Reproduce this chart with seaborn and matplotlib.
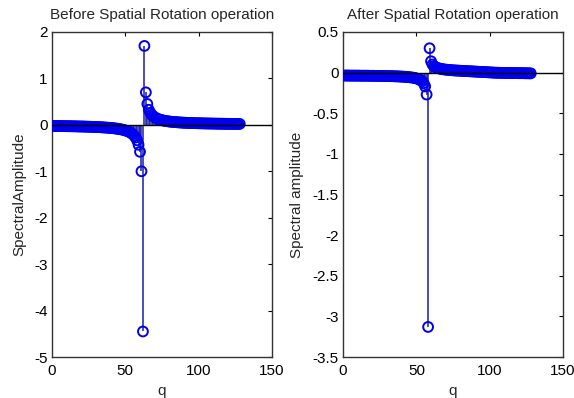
# Stem plots of spectral amplitude before / after spatial rotation (MATLAB-style look)

import numpy as np
import matplotlib
matplotlib.use("Agg")
import matplotlib.pyplot as plt
import seaborn as sns

# q index 1..128
q = list(range(1, 129))

# spectral amplitude before the rotation
before_amp = [
    -0.024, -0.025, -0.025, -0.026, -0.026, -0.027, -0.027, -0.028, -0.028, -0.029,
    -0.029, -0.030, -0.030, -0.031, -0.032, -0.032, -0.033, -0.034, -0.035, -0.035,
    -0.036, -0.037, -0.038, -0.039, -0.040, -0.041, -0.042, -0.044, -0.045, -0.046,
    -0.048, -0.049, -0.051, -0.053, -0.055, -0.057, -0.059, -0.061, -0.064, -0.067,
    -0.070, -0.073, -0.077, -0.081, -0.086, -0.091, -0.097, -0.103, -0.111, -0.120,
    -0.130, -0.143, -0.158, -0.177, -0.200, -0.231, -0.273, -0.333, -0.429, -0.580,
    -1.000, -4.450,
    1.700, 0.700, 0.450, 0.325, 0.260, 0.217, 0.186, 0.163, 0.144, 0.130,
    0.118, 0.108, 0.100, 0.093, 0.087, 0.081, 0.076, 0.072, 0.068, 0.065,
    0.062, 0.059, 0.057, 0.054, 0.052, 0.050, 0.048, 0.046, 0.045, 0.043,
    0.042, 0.041, 0.039, 0.038, 0.037, 0.036, 0.035, 0.034, 0.033, 0.033,
    0.032, 0.031, 0.030, 0.030, 0.029, 0.028, 0.028, 0.027, 0.027, 0.026,
    0.025, 0.025, 0.025, 0.024, 0.024, 0.023, 0.023, 0.022, 0.022, 0.022,
    0.021, 0.021, 0.021, 0.020, 0.020, 0.020,
]

# spectral amplitude after the rotation (right panel)
after_amp = [
    -0.036, -0.036, -0.036, -0.036, -0.037, -0.037, -0.037, -0.037, -0.037, -0.037,
    -0.037, -0.038, -0.038, -0.038, -0.038, -0.038, -0.038, -0.039, -0.039, -0.039,
    -0.039, -0.040, -0.040, -0.040, -0.040, -0.041, -0.041, -0.042, -0.042, -0.042,
    -0.043, -0.043, -0.044, -0.044, -0.045, -0.046, -0.046, -0.047, -0.048, -0.049,
    -0.050, -0.051, -0.053, -0.054, -0.056, -0.058, -0.060, -0.063, -0.067, -0.071,
    -0.077, -0.084, -0.094, -0.108, -0.130, -0.170, -0.270, -3.130,
    0.300, 0.140, 0.100, 0.080, 0.068, 0.060, 0.054, 0.049, 0.045, 0.042,
    0.039, 0.037, 0.035, 0.033, 0.031, 0.030, 0.028, 0.027, 0.026, 0.025,
    0.024, 0.023, 0.022, 0.021, 0.020, 0.019, 0.018, 0.017, 0.016, 0.015,
    0.014, 0.013, 0.012, 0.011, 0.010, 0.009, 0.008, 0.007, 0.006, 0.005,
    0.004, 0.003, 0.002, 0.001, 0.000, -0.001, -0.001, -0.002, -0.002, -0.003,
    -0.003, -0.003, -0.004, -0.004, -0.004, -0.005, -0.005, -0.005, -0.006, -0.006,
    -0.006, -0.007, -0.007, -0.007, -0.007, -0.008, -0.008, -0.008, -0.009, -0.009,
]

titles = ["Before Spatial Rotation operation", "After Spatial Rotation operation"]
ylabels = ["SpectralAmplitude", "Spectral amplitude"]
ylims = [(-5, 2), (-3.5, 0.5)]
yticks = [np.arange(-5, 2.01, 1), np.arange(-3.5, 0.51, 0.5)]
xticks = [0, 50, 100, 150]

sns.set_style("white")
plt.rcParams['font.family'] = ['Liberation Sans', 'DejaVu Sans']

fig = plt.figure(figsize=(5.74, 3.98), dpi=100)
axes = [fig.add_axes([0.0906, 0.103, 0.3833, 0.8166]),
        fig.add_axes([0.5976, 0.103, 0.3833, 0.8166])]

for ax, amp, title, ylab, ylim, yt in zip(axes, [before_amp, after_amp], titles, ylabels, ylims, yticks):
    # stems
    ax.vlines(q, 0, amp, color="#1c1ca8", linewidth=1.1, zorder=2)
    # open circle heads
    sns.scatterplot(x=q, y=amp, ax=ax, marker="o", s=50, facecolor="none",
                    edgecolor="#0000ee", linewidth=1.4, zorder=3, legend=False)
    # baseline
    ax.axhline(0, color="black", linewidth=1.0, zorder=4)

    ax.set_xlim(0, 150)
    ax.set_ylim(*ylim)
    ax.set_xticks(xticks)
    ax.set_yticks(yt)
    ax.set_yticklabels([f"{v:g}" for v in yt])
    ax.tick_params(direction="in", length=3, width=0.8, labelsize=11, colors="black",
                   top=True, right=True, pad=3)
    ax.tick_params(axis="x", pad=5)
    for sp in ax.spines.values():
        sp.set_color("#333333")
        sp.set_linewidth(1.0)
    ax.set_title(title, fontsize=11, pad=9)
    ax.set_xlabel("q", fontsize=11, labelpad=4)
    ax.set_ylabel(ylab, fontsize=11, labelpad=6)

fig.savefig("out.png", dpi=100, facecolor="white")
